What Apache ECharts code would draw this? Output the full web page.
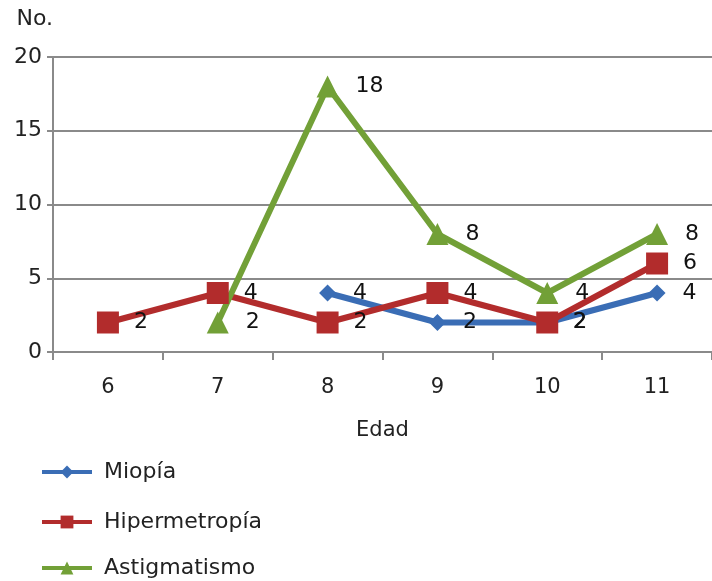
<!DOCTYPE html>
<html><head><meta charset="utf-8">
<script src="https://cdn.jsdelivr.net/npm/echarts@6/dist/echarts.min.js"></script>
<style>html,body{margin:0;padding:0;background:#fff}#c{width:712px;height:581px}</style>
</head><body><div id="c"></div>
<script>
const categories = ['6','7','8','9','10','11'];
const miopia = [null, null, 4, 2, 2, 4];
const hipermetropia = [2, 4, 2, 4, 2, 6];
const astigmatismo = [null, 2, 18, 8, 4, 8];
const yTicks = [0, 5, 10, 15, 20];
const seriesNames = ['Miopía', 'Hipermetropía', 'Astigmatismo'];

const font = 'DejaVu Sans';
const gray = '#8a8a8a';
const chart = echarts.init(document.getElementById('c'));
function mk(name, data, color, symbol, size, dist) {
  return {
    name, type: 'line', data, symbol, symbolSize: size, connectNulls: false,
    lineStyle: {color, width: 6}, itemStyle: {color},
    label: {show: true, position: 'right', distance: dist, color: '#111', fontFamily: font, fontSize: 22},
    z: 3
  };
}
const legendTops = [461, 511, 557];
chart.setOption({
  animation: false,
  backgroundColor: '#fff',
  textStyle: {fontFamily: font},
  grid: {left: 53, top: 57, right: -5, bottom: 229, containLabel: false},
  xAxis: {
    type: 'category', data: categories, boundaryGap: true,
    name: 'Edad', nameLocation: 'middle', nameGap: 68,
    nameTextStyle: {fontFamily: font, fontSize: 21, color: '#222'},
    axisLine: {lineStyle: {color: gray, width: 2}},
    axisTick: {show: true, length: 8, lineStyle: {color: gray, width: 2}},
    axisLabel: {margin: 25, fontFamily: font, fontSize: 21, color: '#222'}
  },
  yAxis: {
    type: 'value', min: yTicks[0], max: yTicks[yTicks.length - 1], interval: 5,
    name: 'No.', nameLocation: 'end', nameGap: 38,
    nameTextStyle: {fontFamily: font, fontSize: 22, color: '#222', align: 'right', verticalAlign: 'middle'},
    axisLine: {show: true, lineStyle: {color: gray, width: 2}},
    axisTick: {show: true, length: 6, lineStyle: {color: gray, width: 2}},
    axisLabel: {margin: 11, fontFamily: font, fontSize: 22, color: '#222'},
    splitLine: {lineStyle: {color: gray, width: 2}}
  },
  legend: seriesNames.map((n, i) => ({
    orient: 'vertical', left: 40, top: legendTops[i], padding: 0, itemWidth: 50, itemHeight: 16,
    lineStyle: {width: 4},
    textStyle: {fontFamily: font, fontSize: 22, color: '#222', padding: [0, 0, 0, 7]},
    data: [n]
  })),
  series: [
    mk(seriesNames[0], miopia, '#3a6db5', 'diamond', 17, 17),
    mk(seriesNames[1], hipermetropia, '#b22c2c', 'rect', 22, 15),
    mk(seriesNames[2], astigmatismo, '#72a037', 'triangle', 22, 17)
  ]
});
</script></body></html>
